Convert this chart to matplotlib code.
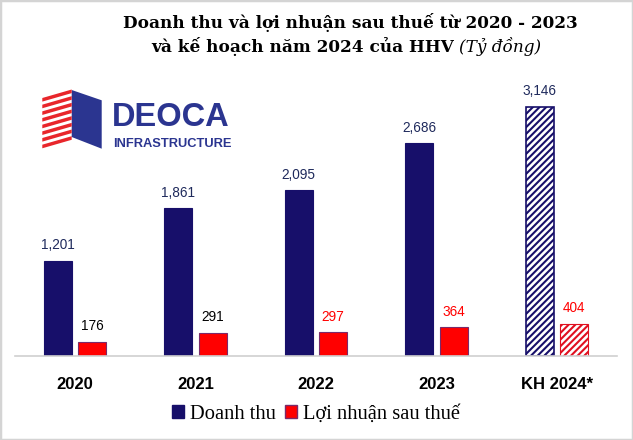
import numpy as np
import matplotlib.pyplot as plt
from matplotlib.patches import Polygon, Patch, Rectangle

# du lieu (ty dong)
nam = ['2020', '2021', '2022', '2023', 'KH 2024*']
doanh_thu = [1201, 1861, 2095, 2686, 3146]
loi_nhuan = [176, 291, 297, 364, 404]
mau_nhan_ln = ['black', 'black', '#ff0000', '#ff0000', '#ff0000']

XANH = '#170f6a'
DO = '#ff0000'
W, H = 633, 440
plt.rcParams['hatch.linewidth'] = 1.5


def px(x, y):
    # toa do pixel -> toa do figure
    return (x / W, 1 - y / H)


fig = plt.figure(figsize=(W / 100, H / 100), dpi=100)
fig.patches.append(Rectangle((0, 0), 1, 1, transform=fig.transFigure,
                             fill=False, ec='#d4d4d4', lw=2.5))

# truc chinh
ax = fig.add_axes([14.75 / W, (H - 355.7) / H, 602.5 / W, 295.7 / H])
x = np.arange(len(nam))
rong = 0.23
lech = 0.143

bars_dt = ax.bar(x - lech, doanh_thu, rong, color=XANH, edgecolor=XANH, lw=0.8)
bars_ln = ax.bar(x + lech, loi_nhuan, rong, color=DO, edgecolor='#7a2a6a', lw=0.8)

# cot ke hoach: gach cheo
bars_dt[-1].set_facecolor('white')
bars_dt[-1].set_hatch('/////')
bars_dt[-1].set_linewidth(1.2)
bars_ln[-1].set_facecolor('white')
bars_ln[-1].set_hatch('/////')
bars_ln[-1].set_edgecolor('#e01020')

for b, v in zip(bars_dt, doanh_thu):
    ax.annotate(f'{v:,}', (b.get_x() + b.get_width() / 2, v), xytext=(0, 6),
                textcoords='offset points', ha='center', va='bottom',
                fontsize=9.8, color='#1f2a5c', family='Liberation Sans')
for b, v, c in zip(bars_ln, loi_nhuan, mau_nhan_ln):
    ax.annotate(f'{v:,}', (b.get_x() + b.get_width() / 2, v), xytext=(0, 6),
                textcoords='offset points', ha='center', va='bottom',
                fontsize=9.8, color=c, family='Liberation Sans')

ax.set_xlim(-0.5, 4.5)
ax.set_ylim(0, 295.7 / 0.07915)
ax.set_xticks(x)
ax.set_xticklabels(nam, fontsize=12, fontweight='bold', family='Liberation Sans')
ax.tick_params(axis='x', length=0, pad=15)
ax.set_yticks([])
for s in ['top', 'right', 'left']:
    ax.spines[s].set_visible(False)
ax.spines['bottom'].set_color('#d0d0d0')
ax.spines['bottom'].set_linewidth(1.2)

# tieu de
fig.text(*px(350, 22), 'Doanh thu và lợi nhuận sau thuế từ 2020 - 2023',
         ha='center', va='center', fontsize=12.2, fontweight='bold',
         family='DejaVu Serif')
fig.text(*px(454, 46), 'và kế hoạch năm 2024 của HHV',
         ha='right', va='center', fontsize=12.2, fontweight='bold',
         family='DejaVu Serif')
fig.text(*px(459, 46), '(Tỷ đồng)', ha='left', va='center', fontsize=12.2,
         style='italic', family='DejaVu Serif')

# logo DEOCA
xanh_logo = '#2b3590'
do_logo = '#e8262b'
fig.patches.append(Polygon([px(71.7, 90), px(101.7, 100.3), px(101.7, 148.7),
                            px(71.7, 137)], closed=True,
                           transform=fig.transFigure, fc=xanh_logo, ec='none'))
chu_ky = 6.67
for k in range(8):
    y0 = 98 + k * chu_ky
    fig.patches.append(Polygon([px(42.3, y0), px(71.7, y0 - 8.5),
                                px(71.7, y0 - 8.5 + 3.6), px(42.3, y0 + 3.6)],
                               closed=True, transform=fig.transFigure,
                               fc=do_logo, ec='none'))
fig.text(*px(112, 117), 'DEOCA', ha='left', va='center',
         fontsize=23.5, fontweight='bold', color=xanh_logo,
         family='Liberation Sans')
fig.text(*px(113, 144), 'INFRASTRUCTURE', ha='left', va='center', fontsize=9.3,
         fontweight='bold', color=xanh_logo, family='Liberation Sans')

# chu thich
fig.legend(handles=[Patch(fc=XANH, ec=XANH), Patch(fc=DO, ec='#7a2a6a')],
           labels=['Doanh thu', 'Lợi nhuận sau thuế'], loc='center',
           bbox_to_anchor=px(316, 414), ncol=2, frameon=False,
           prop={'family': 'Liberation Serif', 'size': 14.8},
           handlelength=0.6, handleheight=0.6, handletextpad=0.3,
           columnspacing=0.4)

fig.savefig('out.png', dpi=100)
